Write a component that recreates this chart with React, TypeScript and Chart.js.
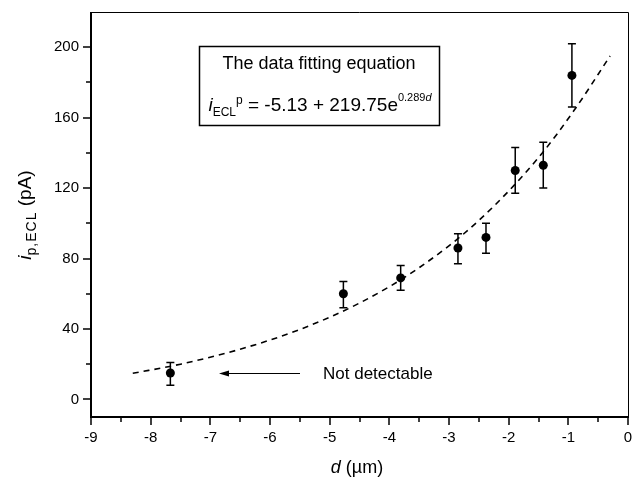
import React, { useEffect, useRef } from "react";
import { Chart, registerables } from "chart.js";

Chart.register(...registerables);

// Measured data (d in µm, i in pA)
const dValues = [-7.67, -4.77, -3.81, -2.85, -2.38, -1.89, -1.42, -0.94];
const iValues = [15, 60, 69, 86, 92, 130, 133, 184];
const errUpper = [21, 67, 76, 94, 100, 143, 146, 202];
const errLower = [8, 52, 62, 77, 83, 117, 120, 166];

// Fitted curve
const fitD = [-8.3, -7.5, -6.5, -5.5, -4.5, -3.5, -2.5, -1.5, -0.9, -0.3];
const fitI = [14.8, 20.0, 28.5, 39.7, 54.7, 74.8, 101.6, 137.3, 164.3, 195];

const xTickValues = [-9, -8.5, -8, -7.5, -7, -6.5, -6, -5.5, -5, -4.5, -4, -3.5, -3, -2.5, -2, -1.5, -1, -0.5, 0];
const yTickValues = [0, 20, 40, 60, 80, 100, 120, 140, 160, 180, 200];

const titleText = "The data fitting equation";
const noteText = "Not detectable";

const FONT = "Arial, 'Liberation Sans', Helvetica, sans-serif";

type Seg = { text: string; font: string; dy: number; ls?: number };

function drawRich(ctx: CanvasRenderingContext2D, segs: Seg[], x: number, y: number, align: "center" | "left") {
  let total = 0;
  const c: any = ctx;
  const widths = segs.map((s) => {
    ctx.font = s.font;
    c.letterSpacing = (s.ls || 0) + "px";
    const w = ctx.measureText(s.text).width;
    total += w;
    return w;
  });
  let cx = align === "center" ? x - total / 2 : x;
  ctx.textAlign = "left";
  ctx.textBaseline = "alphabetic";
  segs.forEach((s, i) => {
    ctx.font = s.font;
    c.letterSpacing = (s.ls || 0) + "px";
    ctx.fillText(s.text, cx, y + s.dy);
    cx += widths[i];
  });
  c.letterSpacing = "0px";
}

const zeroPad = (s: any) => {
  s.paddingLeft = 0;
  s.paddingRight = 0;
  s.paddingTop = 0;
  s.paddingBottom = 0;
};

const decorPlugin = {
  id: "decor",
  afterDatasetsDraw(chart: any) {
    const { ctx, scales } = chart;
    const xs = scales.x;
    const ys = scales.y;
    ctx.save();
    ctx.fillStyle = "#000";
    ctx.strokeStyle = "#000";
    ctx.lineWidth = 1.5;
    dValues.forEach((d, i) => {
      const px = xs.getPixelForValue(d);
      const top = ys.getPixelForValue(errUpper[i]);
      const bot = ys.getPixelForValue(errLower[i]);
      ctx.beginPath();
      ctx.moveTo(px, top);
      ctx.lineTo(px, bot);
      ctx.moveTo(px - 4, top);
      ctx.lineTo(px + 4, top);
      ctx.moveTo(px - 4, bot);
      ctx.lineTo(px + 4, bot);
      ctx.stroke();
    });
    ctx.restore();
  },
  afterDraw(chart: any) {
    const { ctx, chartArea, scales } = chart;
    const xs = scales.x;
    const ys = scales.y;
    const { left, right, top, bottom } = chartArea;
    ctx.save();
    ctx.strokeStyle = "#000";
    ctx.fillStyle = "#000";
    // frame top/right
    ctx.lineWidth = 1;
    ctx.beginPath();
    ctx.moveTo(left, top + 0.5);
    ctx.lineTo(right + 0.5, top + 0.5);
    ctx.lineTo(right + 0.5, bottom);
    ctx.stroke();
    // axes left/bottom
    ctx.lineWidth = 2;
    ctx.beginPath();
    ctx.moveTo(left, top);
    ctx.lineTo(left, bottom + 1);
    ctx.moveTo(left - 1, bottom);
    ctx.lineTo(right + 1, bottom);
    ctx.stroke();
    // ticks
    ctx.lineWidth = 1.5;
    xTickValues.forEach((v) => {
      const px = Math.round(xs.getPixelForValue(v));
      const major = Number.isInteger(v);
      ctx.beginPath();
      ctx.moveTo(px, bottom);
      ctx.lineTo(px, bottom + (major ? 8 : 5));
      ctx.stroke();
    });
    yTickValues.forEach((v) => {
      const py = Math.round(ys.getPixelForValue(v));
      const major = v % 40 === 0;
      ctx.beginPath();
      ctx.moveTo(left, py);
      ctx.lineTo(left - (major ? 8 : 5), py);
      ctx.stroke();
    });

    // text box
    ctx.lineWidth = 1.5;
    ctx.strokeRect(199.5, 46.5, 240, 79);
    drawRich(ctx, [{ text: titleText, font: `18px ${FONT}`, dy: 0 }], 319, 69, "center");
    drawRich(
      ctx,
      [
        { text: "i", font: `italic 19px ${FONT}`, dy: 0 },
        { text: "ECL", font: `12px ${FONT}`, dy: 5 },
        { text: "p", font: `12px ${FONT}`, dy: -7 },
        { text: " = -5.13 + 219.75e", font: `19px ${FONT}`, dy: 0 },
        { text: "0.289", font: `11px ${FONT}`, dy: -10 },
        { text: "d", font: `italic 11px ${FONT}`, dy: -10 },
      ],
      320,
      111,
      "center"
    );

    // arrow + note
    ctx.lineWidth = 1;
    ctx.beginPath();
    ctx.moveTo(300, 373.5);
    ctx.lineTo(222, 373.5);
    ctx.stroke();
    ctx.beginPath();
    ctx.moveTo(219, 373.5);
    ctx.lineTo(229, 370.5);
    ctx.lineTo(229, 376.5);
    ctx.closePath();
    ctx.fill();
    drawRich(ctx, [{ text: noteText, font: `17px ${FONT}`, dy: 0 }], 323, 379, "left");

    // x axis title
    drawRich(
      ctx,
      [
        { text: "d", font: `italic 18px ${FONT}`, dy: 0 },
        { text: " (\u00b5m)", font: `18px ${FONT}`, dy: 0 },
      ],
      357,
      473,
      "center"
    );
    // y axis title
    ctx.save();
    ctx.translate(31, 215);
    ctx.rotate(-Math.PI / 2);
    drawRich(
      ctx,
      [
        { text: "i", font: `italic 19px ${FONT}`, dy: 0 },
        { text: "p,ECL", font: `14px ${FONT}`, dy: 5, ls: 1 },
        { text: " (pA)", font: `19px ${FONT}`, dy: 0 },
      ],
      0,
      0,
      "center"
    );
    ctx.restore();
    ctx.restore();
  },
};

export default function App() {
  const ref = useRef<HTMLCanvasElement | null>(null);
  useEffect(() => {
    if (!ref.current) return;
    const chart = new Chart(ref.current, {
      type: "scatter",
      data: {
        datasets: [
          {
            label: "fit",
            data: fitD.map((d, i) => ({ x: d, y: fitI[i] })),
            showLine: true,
            borderColor: "#000",
            borderWidth: 1.6,
            borderDash: [6, 5],
            pointRadius: 0,
            cubicInterpolationMode: "monotone",
            fill: false,
          } as any,
          {
            label: "data",
            data: dValues.map((d, i) => ({ x: d, y: iValues[i] })),
            showLine: false,
            pointRadius: 4.5,
            pointBackgroundColor: "#000",
            pointBorderColor: "#000",
            pointBorderWidth: 0,
          },
        ],
      },
      options: {
        animation: false,
        responsive: false,
        events: [],
        layout: { padding: { left: 0, right: 6, top: 12, bottom: 0 } },
        plugins: { legend: { display: false }, tooltip: { enabled: false } },
        scales: {
          x: {
            type: "linear",
            min: -9,
            max: 0,
            afterFit: (s: any) => {
              s.height = 62;
              zeroPad(s);
            },
            afterBuildTicks: (s: any) => {
              s.ticks = xTickValues.filter((v) => Number.isInteger(v)).map((v) => ({ value: v }));
            },
            grid: { display: false, drawTicks: false },
            border: { display: false },
            ticks: {
              padding: 12,
              color: "#000",
              font: { family: FONT, size: 15 },
              maxRotation: 0,
              autoSkip: false,
              callback: (v: any) => String(v),
            },
          },
          y: {
            type: "linear",
            min: -10,
            max: 220,
            afterFit: (s: any) => {
              s.width = 91;
              zeroPad(s);
            },
            afterBuildTicks: (s: any) => {
              s.ticks = yTickValues.filter((v) => v % 40 === 0).map((v) => ({ value: v }));
            },
            grid: { display: false, drawTicks: false },
            border: { display: false },
            ticks: {
              padding: 12,
              color: "#000",
              font: { family: FONT, size: 15 },
              autoSkip: false,
              callback: (v: any) => String(v),
            },
          },
        },
      },
      plugins: [decorPlugin],
    });
    return () => chart.destroy();
  }, []);
  return (
    <div style={{ position: "fixed", left: 0, top: 0, width: 634, height: 479, background: "#fff" }}>
      <canvas ref={ref} width={634} height={479} style={{ display: "block" }} />
    </div>
  );
}
